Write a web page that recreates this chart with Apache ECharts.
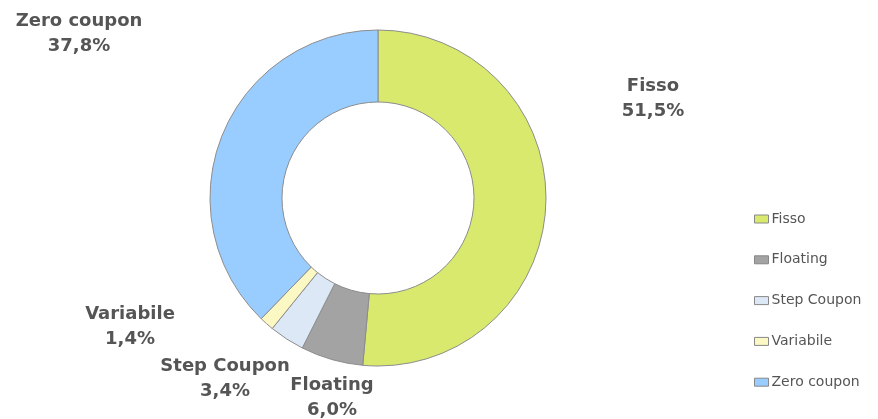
<!DOCTYPE html>
<html><head><meta charset="utf-8">
<script src="https://cdn.jsdelivr.net/npm/echarts@6/dist/echarts.min.js"></script>
<style>html,body{margin:0;padding:0;background:#fff}#c{width:878px;height:419px}</style>
</head><body><div id="c"></div>
<script>
const categories = ['Fisso', 'Floating', 'Step Coupon', 'Variabile', 'Zero coupon'];
const values = [51.5, 6.0, 3.4, 1.4, 37.8];
const labelTexts = ['51,5%', '6,0%', '3,4%', '1,4%', '37,8%'];
const colors = ['#d9e96e', '#a3a3a3', '#dce8f5', '#fcf8c4', '#99ccff'];
const labelPos = [[653, 99], [332, 398], [225, 379], [130, 327], [79, 34]];

const chart = echarts.init(document.getElementById('c'));
chart.setOption({
  animation: false,
  legend: {
    orient: 'vertical', left: 749, top: 207, itemGap: 26.8,
    itemWidth: 14, itemHeight: 8,
    icon: 'rect',
    itemStyle: { borderColor: '#888', borderWidth: 1 },
    textStyle: { fontFamily: 'DejaVu Sans', fontSize: 14, color: '#555', padding: [0, 0, 0, -2] },
    data: categories
  },
  series: [{
    type: 'pie',
    center: [378, 198],
    radius: [96, 168],
    startAngle: 90,
    clockwise: true,
    avoidLabelOverlap: false,
    itemStyle: { borderColor: '#8c8c8c', borderWidth: 1 },
    label: {
      show: true, position: 'outside',
      fontFamily: 'DejaVu Sans', fontSize: 18, fontWeight: 'bold', color: '#555', lineHeight: 25, align: 'center',
      formatter: p => p.name + '\n' + labelTexts[p.dataIndex]
    },
    labelLine: { show: false },
    labelLayout: p => ({ x: labelPos[p.dataIndex][0], y: labelPos[p.dataIndex][1], align: 'center', verticalAlign: 'middle' }),
    data: categories.map((c, i) => ({ name: c, value: values[i], itemStyle: { color: colors[i] } }))
  }]
});
</script></body></html>
